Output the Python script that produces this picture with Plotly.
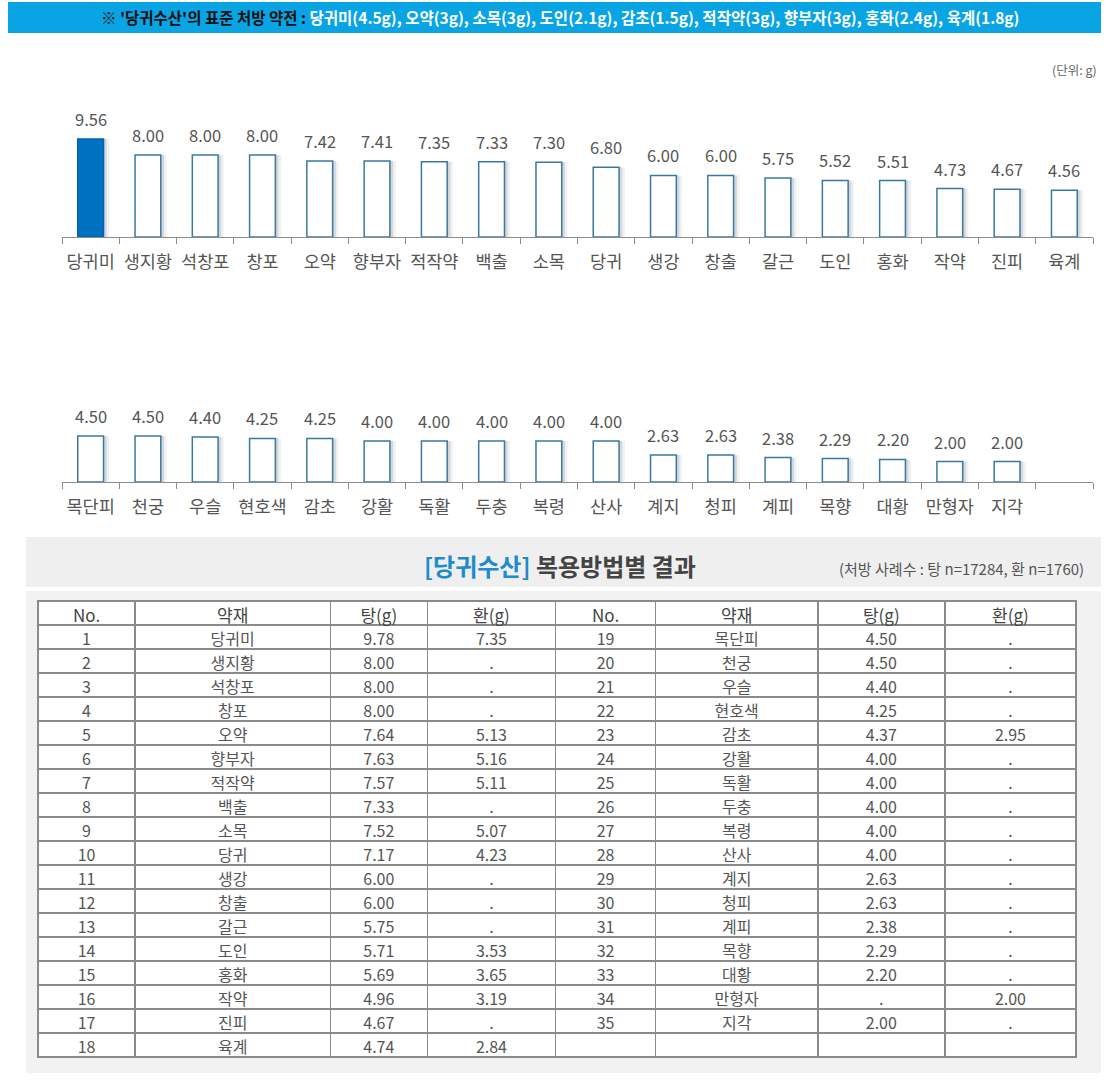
import plotly.graph_objects as go

W, H = 1109, 1087

# ---------------- data ----------------
herbs = ["당귀미", "생지황", "석창포", "창포", "오약", "향부자", "적작약", "백출", "소목", "당귀",
         "생강", "창출", "갈근", "도인", "홍화", "작약", "진피", "육계",
         "목단피", "천궁", "우슬", "현호색", "감초", "강활", "독활", "두충", "복령", "산사",
         "계지", "청피", "계피", "목향", "대황", "만형자", "지각"]
chart_values = [9.56, 8.00, 8.00, 8.00, 7.42, 7.41, 7.35, 7.33, 7.30, 6.80,
                6.00, 6.00, 5.75, 5.52, 5.51, 4.73, 4.67, 4.56,
                4.50, 4.50, 4.40, 4.25, 4.25, 4.00, 4.00, 4.00, 4.00, 4.00,
                2.63, 2.63, 2.38, 2.29, 2.20, 2.00, 2.00]
tang = [9.78, 8.00, 8.00, 8.00, 7.64, 7.63, 7.57, 7.33, 7.52, 7.17,
        6.00, 6.00, 5.75, 5.71, 5.69, 4.96, 4.67, 4.74,
        4.50, 4.50, 4.40, 4.25, 4.37, 4.00, 4.00, 4.00, 4.00, 4.00,
        2.63, 2.63, 2.38, 2.29, 2.20, None, 2.00]
hwan = [7.35, None, None, None, 5.13, 5.16, 5.11, None, 5.07, 4.23,
        None, None, None, 3.53, 3.65, 3.19, None, 2.84,
        None, None, None, None, 2.95, None, None, None, None, None,
        None, None, None, None, None, 2.00, None]
table_headers = ["No.", "약재", "탕(g)", "환(g)", "No.", "약재", "탕(g)", "환(g)"]

banner_bold = "※ '당귀수산'의 표준 처방 약전 : "
banner_rest = "당귀미(4.5g), 오약(3g), 소목(3g), 도인(2.1g), 감초(1.5g), 적작약(3g), 향부자(3g), 홍화(2.4g), 육계(1.8g)"
unit_text = "(단위: g)"
section_title_blue = "[당귀수산]"
section_title_rest = " 복용방법별 결과"
section_note = "(처방 사례수 : 탕 n=17284, 환 n=1760)"

FONT = "Noto Sans CJK KR"

def px(x):
    return x / W

def py(y):
    return 1 - y / H

# ---------------- chart geometry ----------------
PX_PER_UNIT = 10.25
YMAX = 12.5
X_LEFT, X_RIGHT = 62, 1093
BASE1, BASE2 = 237, 482

cats1 = herbs[:18]
vals1 = chart_values[:18]
cats2 = herbs[18:] + [" "]
vals2 = chart_values[18:] + [None]

BAR_W = 0.45
fig = go.Figure()

def add_chart(cats, vals, xa, ya, first_blue):
    # soft shadow
    for shift, alpha in [(0.10, 0.07), (0.055, 0.14)]:
        fig.add_trace(go.Bar(x=cats, y=vals, xaxis=xa, yaxis=ya, width=BAR_W,
                             offset=-BAR_W / 2 + shift,
                             marker=dict(color=f"rgba(40,60,80,{alpha})", line=dict(width=0)),
                             hoverinfo="skip", showlegend=False))
    fills = ["#0070C0" if (first_blue and i == 0) else "white" for i in range(len(cats))]
    lines = ["#0064AE" if (first_blue and i == 0) else "#3A78A2" for i in range(len(cats))]
    fig.add_trace(go.Bar(x=cats, y=vals, xaxis=xa, yaxis=ya, width=BAR_W,
                         offset=-BAR_W / 2,
                         marker=dict(color=fills, line=dict(color=lines, width=1.5)),
                         showlegend=False))
    for c, v in zip(cats, vals):
        if v is None:
            continue
        fig.add_annotation(x=c, y=v, xref=xa, yref=ya, text=f"{v:.2f}",
                           showarrow=False, yanchor="bottom", yshift=6,
                           font=dict(family=FONT, size=16.5, color="#555555"))

add_chart(cats1, vals1, "x", "y", True)
add_chart(cats2, vals2, "x2", "y2", False)

axis_common = dict(type="category", showline=True, linecolor="#8c8c8c", linewidth=1,
                   ticks="outside", tickson="boundaries", ticklen=6, tickcolor="#8c8c8c",
                   tickwidth=1, showgrid=False, zeroline=False, ticklabelstandoff=9,
                   tickangle=0, automargin=False,
                   tickfont=dict(family=FONT, size=17.5, color="#555555"),
                   domain=[px(X_LEFT), px(X_RIGHT)], fixedrange=True)

fig.update_layout(
    barmode="overlay",
    xaxis=dict(axis_common, anchor="y", range=[-0.5, 17.5]),
    yaxis=dict(domain=[py(BASE1), py(BASE1 - YMAX * PX_PER_UNIT)], range=[0, YMAX],
               visible=False, anchor="x"),
    xaxis2=dict(axis_common, anchor="y2", range=[-0.5, 17.5]),
    yaxis2=dict(domain=[py(BASE2), py(BASE2 - YMAX * PX_PER_UNIT)], range=[0, YMAX],
                visible=False, anchor="x2"),
)

# ---------------- table ----------------
def fmt(v):
    return "." if v is None else f"{v:.2f}"

n_left = 18
col_vals = [
    [str(i + 1) for i in range(n_left)],
    herbs[:n_left],
    [fmt(v) for v in tang[:n_left]],
    [fmt(v) for v in hwan[:n_left]],
    [str(i + 1) for i in range(n_left, len(herbs))] + [""],
    herbs[n_left:] + [""],
    [fmt(v) for v in tang[n_left:]] + [""],
    [fmt(v) for v in hwan[n_left:]] + [""],
]

fig.add_trace(go.Table(
    domain=dict(x=[px(38), px(1076)], y=[py(1064), py(601)]),
    columnwidth=[97, 195, 97, 128, 100, 162, 127, 131],
    header=dict(values=table_headers, height=24, fill_color="white",
                line=dict(color="#8a8a8a", width=1.5), align="center",
                font=dict(family=FONT, size=17, color="#444444")),
    cells=dict(values=col_vals, height=24, fill_color="white",
               line=dict(color="#8a8a8a", width=1.5), align="center",
               font=dict(family=FONT, size=16, color="#555555")),
))

# ---------------- decorations ----------------
shapes = [
    dict(type="rect", xref="paper", yref="paper", x0=px(8), x1=px(1101), y0=py(33), y1=py(2),
         fillcolor="#08A4E4", line=dict(width=0), layer="below"),
    dict(type="rect", xref="paper", yref="paper", x0=px(26), x1=px(1101), y0=py(587), y1=py(537),
         fillcolor="#EFEFEF", line=dict(width=0), layer="below"),
    dict(type="rect", xref="paper", yref="paper", x0=px(26), x1=px(1101), y0=py(1073), y1=py(591),
         fillcolor="#F2F2F2", line=dict(width=0), layer="below"),
]

annotations = [
    dict(x=px(560), y=py(17), xref="paper", yref="paper", showarrow=False,
         xanchor="center", yanchor="middle",
         text=f"<b>{banner_bold}<span style='color:white'>{banner_rest}</span></b>",
         font=dict(family=FONT, size=15.5, color="#111111")),
    dict(x=px(1099), y=py(70), xref="paper", yref="paper", showarrow=False,
         xanchor="right", yanchor="middle", text=unit_text,
         font=dict(family=FONT, size=12.5, color="#666666")),
    dict(x=px(560), y=py(565), xref="paper", yref="paper", showarrow=False,
         xanchor="center", yanchor="middle",
         text=f"<b><span style='color:#1E8BCB'>{section_title_blue}</span>{section_title_rest}</b>",
         font=dict(family=FONT, size=24, color="#444444")),
    dict(x=px(1086), y=py(568), xref="paper", yref="paper", showarrow=False,
         xanchor="right", yanchor="middle", text=section_note,
         font=dict(family=FONT, size=15, color="#555555")),
]

fig.update_layout(
    width=W, height=H, margin=dict(l=0, r=0, t=0, b=0),
    paper_bgcolor="white", plot_bgcolor="rgba(0,0,0,0)",
    font=dict(family=FONT),
    shapes=shapes,
    annotations=list(fig.layout.annotations) + annotations,
    showlegend=False,
)

fig.write_html("out.html", config={"displayModeBar": False})
